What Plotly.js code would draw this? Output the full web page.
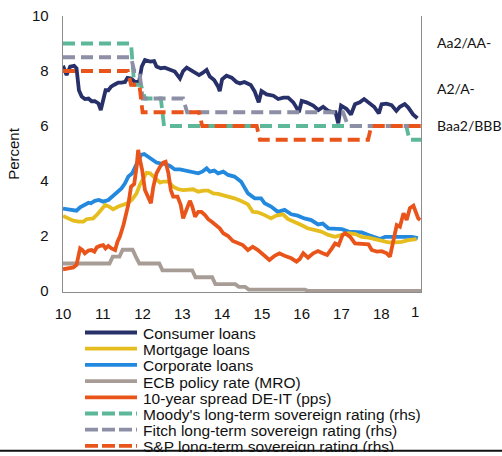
<!DOCTYPE html>
<html><head><meta charset="utf-8">
<script src="https://cdn.plot.ly/plotly-3.0.1.min.js"></script>
<style>
html,body{margin:0;padding:0;background:#fff;width:502px;height:456px;overflow:hidden;}
#chart{width:502px;height:452px;}
</style></head><body>
<div id="chart"></div>
<script>
// ---------- data (years since 2000, monthly-ish readings) ----------
const consumerX = [10.00,10.09,10.18,10.28,10.34,10.40,10.47,10.55,10.64,10.72,10.80,10.89,10.95,
11.01,11.07,11.14,11.21,11.29,11.39,11.47,11.56,11.62,11.71,11.81,11.91,11.98,
12.06,12.19,12.29,12.35,12.46,12.56,12.69,12.81,12.94,
13.02,13.11,13.23,13.32,13.42,13.50,13.61,13.69,13.80,13.90,13.94,
14.00,14.11,14.24,14.36,14.45,14.56,14.72,14.82,14.92,14.99,
15.12,15.29,15.41,15.54,15.66,15.79,15.87,15.93,
16.00,16.12,16.29,16.42,16.54,16.67,16.79,16.85,16.92,16.99,
17.13,17.24,17.34,17.46,17.57,17.67,17.82,17.94,
18.01,18.13,18.26,18.38,18.47,18.59,18.68,18.80,18.91];
const consumerY = [8.19,7.85,8.16,8.19,8.10,7.30,7.07,6.98,7.00,6.90,6.90,6.82,6.58,
6.95,7.30,7.30,7.43,7.50,7.58,7.58,7.60,7.75,7.73,7.60,7.60,8.16,
8.40,8.34,8.36,8.16,8.10,8.12,8.04,7.98,7.73,
8.00,8.12,8.00,7.92,7.85,7.92,8.04,7.80,7.67,7.43,7.27,
7.70,7.83,7.76,7.60,7.55,7.60,7.49,7.25,6.86,7.27,
7.15,7.10,6.98,7.03,7.03,6.86,6.67,6.50,
6.91,6.86,6.74,6.58,6.70,6.55,6.50,6.50,6.10,6.74,
6.62,6.42,6.79,6.86,6.98,6.88,6.70,6.46,
6.79,6.81,6.76,6.55,6.70,6.80,6.67,6.42,6.28];

const mortgageX = [10.00,10.13,10.26,10.39,10.51,10.59,10.68,10.76,10.87,10.97,
11.06,11.16,11.26,11.39,11.52,11.62,11.74,11.85,11.93,
12.02,12.10,12.19,12.27,12.35,12.44,12.52,12.65,12.77,12.90,
13.02,13.15,13.27,13.40,13.53,13.65,13.78,13.90,
14.03,14.15,14.31,14.48,14.65,14.77,14.90,
15.07,15.23,15.36,15.53,15.65,15.82,15.99,
16.15,16.32,16.49,16.67,16.84,
17.01,17.18,17.35,17.51,17.68,17.85,
18.01,18.18,18.35,18.51,18.68,18.89];
const mortgageY = [2.73,2.64,2.56,2.52,2.52,2.61,2.64,2.64,2.80,2.97,
3.13,3.07,2.97,3.07,3.13,3.19,3.33,3.55,3.85,
4.10,4.30,4.28,4.16,4.04,3.94,3.98,3.98,3.79,3.70,
3.67,3.67,3.70,3.61,3.65,3.65,3.55,3.53,
3.49,3.43,3.37,3.27,3.15,2.88,2.86,
2.76,2.64,2.74,2.79,2.62,2.52,2.40,
2.28,2.22,2.16,2.04,1.97,
2.04,2.10,2.07,1.97,1.94,1.89,
1.82,1.77,1.77,1.79,1.85,1.89];

const corporateX = [10.00,10.13,10.26,10.34,10.43,10.55,10.64,10.70,10.80,10.90,
11.01,11.14,11.24,11.35,11.47,11.56,11.64,11.74,11.81,11.89,11.96,
12.04,12.14,12.24,12.35,12.44,12.56,12.69,12.81,12.94,
13.07,13.19,13.30,13.40,13.50,13.61,13.69,13.80,13.90,
14.03,14.15,14.31,14.48,14.65,14.82,14.98,
15.07,15.23,15.40,15.57,15.74,15.90,
16.07,16.24,16.41,16.53,16.67,16.84,
17.01,17.18,17.35,17.51,17.68,17.85,17.97,
18.10,18.26,18.43,18.60,18.77,18.92];
const corporateY = [3.00,2.97,2.95,2.92,3.04,3.13,3.21,3.19,3.28,3.31,
3.25,3.31,3.43,3.58,3.73,3.92,4.16,4.28,4.50,4.74,4.95,
4.98,4.88,4.76,4.67,4.64,4.62,4.55,4.42,4.42,
4.38,4.34,4.34,4.28,4.34,4.46,4.34,4.38,4.28,
4.34,4.22,4.16,3.97,3.55,3.37,3.37,
3.19,3.07,2.88,2.95,2.79,2.74,
2.64,2.58,2.42,2.45,2.28,2.28,
2.25,2.16,2.13,2.13,2.04,1.97,1.89,
1.97,1.97,1.94,1.94,1.97,1.92];

const ecbX = [10,11.17,11.25,11.42,11.5,11.75,11.83,11.92,12.42,12.5,13.25,13.33,13.75,13.83,14.33,14.42,14.58,14.67,16.08,16.17,19];
const ecbY = [1,1,1.25,1.25,1.5,1.5,1.25,1.0,1.0,0.75,0.75,0.5,0.5,0.25,0.25,0.15,0.15,0.05,0.05,0,0];

const spreadX = [10.00,10.13,10.26,10.34,10.43,10.49,10.55,10.64,10.72,10.79,10.85,10.93,11.01,
11.07,11.14,11.22,11.31,11.37,11.43,11.52,11.57,11.64,11.71,11.79,11.85,11.89,11.93,11.99,
12.06,12.14,12.21,12.27,12.35,12.44,12.52,12.58,12.65,12.71,12.77,12.88,12.96,
13.02,13.11,13.19,13.25,13.32,13.40,13.48,13.57,13.65,13.74,13.84,13.94,
14.03,14.15,14.27,14.40,14.52,14.65,14.77,14.90,
15.03,15.19,15.32,15.44,15.57,15.74,15.87,15.95,
16.04,16.16,16.29,16.41,16.53,16.64,16.76,16.84,16.93,
17.03,17.09,17.22,17.34,17.51,17.68,17.76,17.89,
18.01,18.14,18.22,18.31,18.39,18.47,18.56,18.64,18.72,18.81,18.93,18.98];
const spreadY = [0.79,0.82,0.86,0.95,1.55,1.49,1.37,1.47,1.49,1.43,1.59,1.64,1.67,
1.55,1.64,1.55,1.49,1.79,1.98,2.40,2.70,3.13,3.79,3.89,4.52,5.13,4.80,4.40,
3.67,3.37,3.19,3.79,4.28,4.52,4.67,4.70,4.28,3.67,3.43,3.43,3.13,
2.64,2.95,3.28,3.07,2.70,2.88,2.88,2.76,2.61,2.52,2.40,2.28,
2.10,2.00,1.82,1.73,1.67,1.49,1.61,1.49,
1.31,1.13,1.28,1.37,1.28,1.19,1.07,1.16,
1.37,1.21,1.37,1.45,1.37,1.31,1.55,1.73,1.67,
2.04,2.10,1.97,1.73,1.70,1.70,1.49,1.43,
1.45,1.37,1.25,1.92,2.40,2.34,2.83,2.58,3.01,3.10,2.64,2.58];

// sovereign ratings (rhs, notch scale)
const moodysX = [10,11.71,11.79,11.96,12.06,12.46,12.54,18.63,18.71,19];
const moodysY = [9,9,7.5,7.5,7,7,6,6,5.5,5.5];
const fitchX = [10,11.71,11.79,11.92,12.0,13.02,13.12,17.04,17.17,19];
const fitchY = [8.5,8.5,8,8,7,7,6.5,6.5,6,6];
const spX = [10,11.63,11.71,11.92,12.0,13.42,13.5,14.87,14.95,17.67,17.75,19];
const spY = [8,8,7.5,7.5,6.5,6.5,6,6,5.5,5.5,6,6];

const xTickVals = [10,11,12,13,14,15,16,17,18];
const xTickText = ["10","11","12","13","14","15","16","17","18"];
const yTickVals = [0,2,4,6,8,10];
const ratingTickVals = [9,7.35,6];
const ratingTickText = ["Aa2/AA-","A2/A-","Baa2/BBB"];

const names = ["Consumer loans","Mortgage loans","Corporate loans","ECB policy rate (MRO)",
  "10-year spread DE-IT (pps)","Moody's long-term sovereign rating (rhs)",
  "Fitch long-term sovereign rating (rhs)","S&P long-term sovereign rating (rhs)"];
const colors = ["#28306a","#e6bd1e","#2389de","#a89d96","#e9541a","#5cb898","#8c8fa5","#e9541a"];
const dashed = [false,false,false,false,false,true,true,true];

// ---------- layout helpers ----------
const W=502,H=452,ML=63,MR=81,MT=16,MB=160;
const plotW=W-ML-MR, plotH=H-MT-MB;
const pxX = px => (px-ML)/plotW;
const pyY = py => (H-MB-py)/plotH;
const FONT = "Liberation Sans, Arial, sans-serif";
const LW = 3.8;

const series = [
  [consumerX,consumerY,'y'],[corporateX,corporateY,'y'],[mortgageX,mortgageY,'y'],
  [ecbX,ecbY,'y'],[spreadX,spreadY,'y'],
  [moodysX,moodysY,'y2'],[fitchX,fitchY,'y2'],[spX,spY,'y2']
];
const idx = [0,2,1,3,4,5,6,7];
const traces = series.map((s,k)=>{
  const i = idx[k];
  return {x:s[0], y:s[1], yaxis:s[2], type:'scatter', mode:'lines', name:names[i],
    showlegend:false, hoverinfo:'skip',
    line:{color:colors[i], width:LW, dash: dashed[i] ? '12px,6px' : 'solid'}};
});

// custom legend (rows)
const shapes=[], annotations=[];
const rowTop=332.5, rowStep=16.2;
names.forEach((n,i)=>{
  const py = rowTop + i*rowStep;
  shapes.push({type:'line', xref:'paper', yref:'paper', x0:pxX(85), x1:pxX(137), y0:pyY(py), y1:pyY(py),
    line:{color:colors[i], width:LW, dash: dashed[i] ? '13px,4px' : 'solid'}});
  annotations.push({xref:'paper', yref:'paper', x:pxX(141), y:pyY(py+1), xanchor:'left', yanchor:'middle',
    text:n.replace(/&/g,'&amp;'), showarrow:false, font:{family:FONT, size:15.5, color:'#111'}});
});
// frame edge line at the bottom of the picture
shapes.push({type:'line', xref:'paper', yref:'paper', x0:pxX(0), x1:pxX(W), y0:pyY(450.8), y1:pyY(450.8),
  line:{color:'#111', width:2}});
// truncated "19" tick label at right edge
annotations.push({xref:'x', yref:'paper', x:19, y:pyY(311), xanchor:'right', yanchor:'middle',
  text:'1', showarrow:false, font:{family:FONT, size:15, color:'#111'}});

const axisLine = '#8c8c8c';
const layout = {
  width:W, height:H, margin:{l:ML,r:MR,t:MT,b:MB,pad:0},
  paper_bgcolor:'#fff', plot_bgcolor:'#fff', showlegend:false,
  xaxis:{range:[10,19], tickvals:xTickVals, ticktext:xTickText, showgrid:false, zeroline:false,
    showline:true, linecolor:axisLine, linewidth:1.3, ticks:'', ticklabelstandoff:8,
    tickfont:{family:FONT, size:15, color:'#111'}, fixedrange:true},
  yaxis:{range:[-0.036,10], tickvals:yTickVals, showgrid:false, zeroline:false,
    showline:true, mirror:true, linecolor:axisLine, linewidth:1.3, ticks:'', ticklabelstandoff:10,
    tickfont:{family:FONT, size:15, color:'#111'},
    title:{text:'Percent', font:{family:FONT, size:15, color:'#111'}, standoff:8}, fixedrange:true},
  yaxis2:{range:[-0.036,10], overlaying:'y', side:'right', tickvals:ratingTickVals, ticktext:ratingTickText,
    showgrid:false, zeroline:false, showline:false, ticks:'', ticklabelstandoff:15,
    tickfont:{family:'Lato, Open Sans, sans-serif', size:14, color:'#111'}, fixedrange:true},
  shapes:shapes, annotations:annotations
};
Plotly.newPlot('chart', traces, layout, {staticPlot:true, displayModeBar:false});
</script></body></html>
